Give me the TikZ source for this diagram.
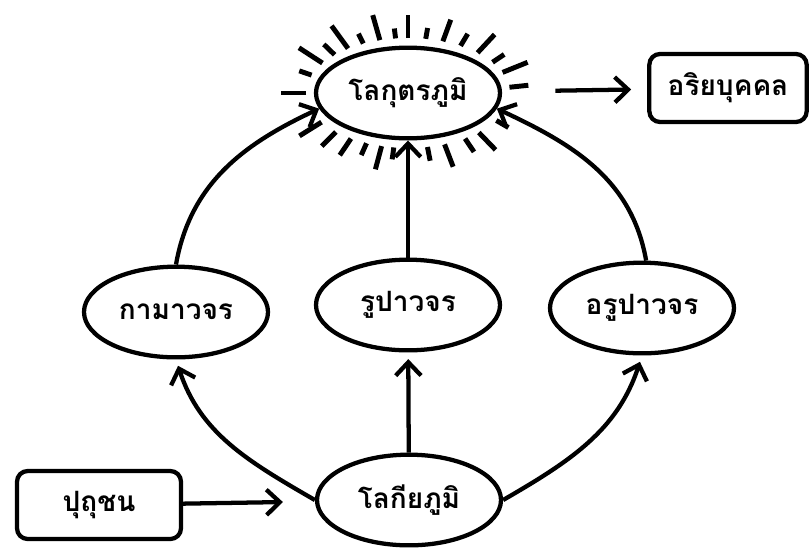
\documentclass[tikz,border=0pt]{standalone}
\usepackage{fontspec}
\newfontfamily\thaifont[Script=Thai]{Loma}
\usetikzlibrary{positioning,shapes,calc,arrows.meta}

\begin{document}
\begin{tikzpicture}[x=0.75pt,y=-0.75pt,
  line width=3.2pt,
  realm/.style={ellipse,draw,minimum width=138pt,minimum height=68pt,inner sep=0pt,font=\thaifont\bfseries\fontsize{21}{25}\selectfont},
  person/.style={rectangle,draw,rounded corners=8pt,minimum height=51pt,inner sep=0pt,font=\thaifont\bfseries\fontsize{21}{25}\selectfont},
  arr/.style={-{Straight Barb[length=10pt,width=19pt]}},
  ray/.style={line width=3.7pt}
]
\useasboundingbox (0,0) rectangle (810,551);

% the realms
\node[realm] (lokut) at (408,93) {โลกุตรภูมิ};
\node[realm] (kama) at (176,312) {กามาวจร};
\node[realm] (rupa) at (408,305) {รูปาวจร};
\node[realm] (arupa) at (642,308) {อรูปาวจร};
\node[realm] (lokiya) at (409,500) {โลกียภูมิ};

% the persons
\node[person,minimum width=123pt] (puthu) at (99,505) {ปุถุชน};
\node[person,minimum width=118pt] (ariya) at (728,88) {อริยบุคคล};

% the rays
\foreach \a/\l in {180/25,161/13,147/28,136/15,126/28,116/11,106/26,97/10,90/23,80/11,
  70/23,59/14,47/25,34/14,22/27,6/19,330/14,314/24,304/16,291/24,281/14,
  262/12,255/24,246/13,236/20,225/20,212/26}
  \draw[ray] ($(lokut.center)+({-\a}:102 and 55)$) -- ($(lokut.center)+({-\a}:{102+\l} and {55+\l})$);

% the edges
\draw[arr,shorten >=24pt] (puthu) -- (lokiya);
\draw[arr,shorten <=40pt,shorten >=12pt] (lokut) -- (ariya);
\draw[arr,shorten >=5pt] (lokiya) -- (rupa);
\draw[arr] (rupa) -- (lokut);
\draw[arr,shorten >=5pt] (lokiya.west) to[out=150,in=288] (kama.south);
\draw[arr,shorten >=5pt] (lokiya.east) to[out=30,in=252] (arupa.south);
\draw[arr] (kama.north) to[out=80,in=205] (lokut.190);
\draw[arr] (arupa.85) to[out=100,in=-25] (lokut.350);
\end{tikzpicture}
\end{document}
